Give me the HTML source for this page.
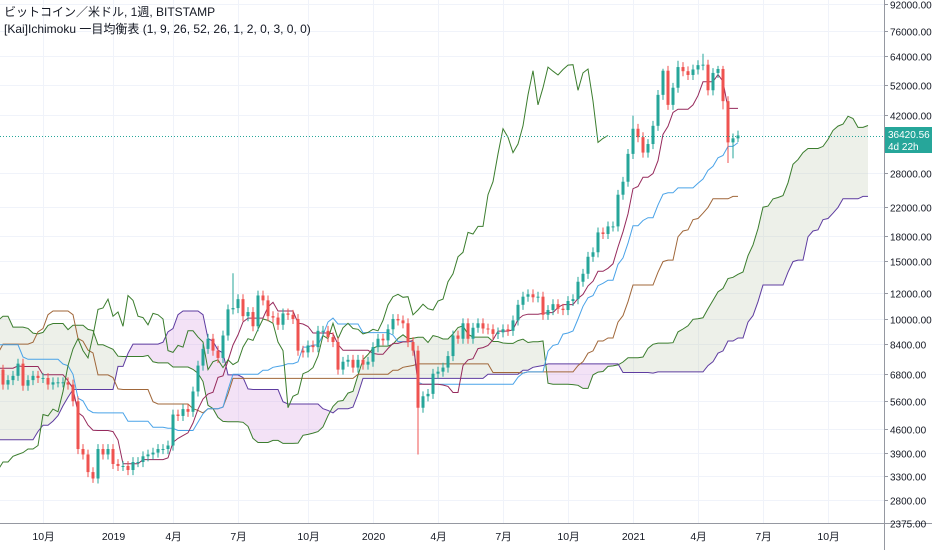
<!DOCTYPE html>
<html><head><meta charset="utf-8"><style>
body{margin:0;background:#fff;width:932px;height:550px;overflow:hidden;font-family:"Liberation Sans","Noto Sans CJK JP",sans-serif}
svg text{font-family:"Liberation Sans","Noto Sans CJK JP",sans-serif}
</style></head><body>
<svg id="c" width="932" height="550" xmlns="http://www.w3.org/2000/svg">
<rect width="932" height="550" fill="#fff"/>
<g id="grid"></g>
<g id="cloud"></g>
<g id="lines"></g>
<g id="candles"></g>
<line x1="884.5" y1="0" x2="884.5" y2="550" stroke="#9598a1"/>
<line x1="0" y1="523.5" x2="932" y2="523.5" stroke="#9598a1"/>
<g id="yax"></g>
<g id="xax"></g>
<line x1="0" y1="136.5" x2="884" y2="136.5" stroke="#26a69a" stroke-dasharray="1,2"/>
<rect x="885" y="127" width="47" height="26" fill="#26a69a"/>
<text x="888" y="138" font-size="10" fill="#fff">36420.56</text>
<text x="888" y="150" font-size="10" fill="#fff">4d 22h</text>
<text x="4" y="16" font-size="12" fill="#131722">ビットコイン／米ドル, 1週, BITSTAMP</text>
<text x="4" y="33" font-size="12" fill="#131722">[Kai]Ichimoku 一目均衡表 (1, 9, 26, 52, 26, 1, 2, 0, 3, 0, 0)</text>
</svg>
<script>
// weekly closes starting 2017-02-06
const closes = [1000,1050,1180,1270,1230,1020,960,1080,1190,1180,1250,1350,1550,1750,2050,2050,2500,2700,2500,2600,2500,2500,1950,2750,2700,3250,4000,4100,4350,4600,4200,3700,3800,4400,4600,5600,6000,6100,7400,5900,8000,9700,11200,15000,19000,14000,13500,
14000,13500,11500,11200,8200,8100,10300,9600,11400,9600,8200,8500,6900,6900,8000,8900,9300,8700,8500,8200,7350,7700,6500,6400,6100,6400,6700,6350,8200,8200,7000,
6300,6500,6700,7300,6250,6500,6700,6600,6600,6300,6400,6400,6400,6300,5600,4000,3850,3400,3250,4000,3850,4000,
3600,3550,3550,3450,3650,3650,3800,3850,3900,4000,4000,4100,5100,5050,5300,5200,6000,7200,8100,8700,8000,7600,8900,10700,10800,11500,10200,10500,9500,11800,11400,10200,10100,9600,10400,10300,10000,8000,7900,8300,8200,9200,9200,8800,8500,7000,7400,7500,7100,7500,7250,7400,
8200,8700,8600,9300,10000,9900,9700,8500,8000,5350,5800,5900,6800,6900,7100,7700,8900,8700,9700,8700,9400,9700,9350,9300,9000,9100,9300,9200,9900,11050,11700,11900,11650,11700,10300,10650,11100,10750,10650,11350,11500,13000,13750,15500,16000,18400,18200,19200,19200,24000,26300,32000,
38200,36000,32300,34300,39000,48500,57500,45200,51000,59000,57300,55800,58000,59800,60000,50100,56600,58200,46400,34700,35700,36420];
const firstOpen = 970;
const highOverrides = {44:19600,124:13800,204:41900,210:58300,213:61700,218:64800,221:59500,222:59500};
const lowOverrides = {96:3150,161:3850,222:43800,223:30000,224:31000,225:34800};
const priceTicks = [92000,76000,64000,52000,42000,28000,22000,18000,15000,12000,10000,8400,6800,5600,4600,3900,3300,2800,2375];
const timeLabels = ["10月","2019","4月","7月","10月","2020","4月","7月","10月","2021","4月","7月","10月"];
const timeLabelWeek = [86,100,112,125,139,152,165,178,191,204,217,230,243];
const tenkanLen=9, kijunLen=26, spanBLen=52, disp=26, visStart=78;

const NS="http://www.w3.org/2000/svg";
const L0=Math.log(92000), K=141.93;
const yS=p=>4+(L0-Math.log(p))*K;
const xS=i=>3+(i-visStart)*5;
function mk(tag,attrs,parent){const e=document.createElementNS(NS,tag);for(const k in attrs)e.setAttribute(k,attrs[k]);parent.appendChild(e);return e;}
const N=closes.length;
const opens=closes.map((c,i)=>i?closes[i-1]:firstOpen);
const highs=closes.map((c,i)=>highOverrides[i]||Math.max(c,opens[i])*1.035);
const lows=closes.map((c,i)=>lowOverrides[i]||Math.min(c,opens[i])*0.965);
function gmid(i,len){let h=-1,l=1e12;for(let j=Math.max(0,i-len+1);j<=i;j++){h=Math.max(h,highs[j]);l=Math.min(l,lows[j]);}return Math.sqrt(h*l);}
const tenkan=[],kijun=[],spanB=[],spanA=[];
for(let i=0;i<N;i++){tenkan[i]=gmid(i,tenkanLen);kijun[i]=gmid(i,kijunLen);spanB[i]=gmid(i,spanBLen);spanA[i]=Math.sqrt(tenkan[i]*kijun[i]);}

const grid=document.getElementById('grid'), yax=document.getElementById('yax'), xax=document.getElementById('xax');
priceTicks.forEach(p=>{const y=Math.round(yS(p))+0.5;
 const g=mk('line',{x1:0,x2:884,y1:y,y2:y,stroke:'#f0f3fa'},grid);
 
 
 mk('line',{x1:884,x2:888,y1:y,y2:y,stroke:'#9598a1'},yax);
 const t=mk('text',{x:890,y:y+4,'font-size':10,fill:'#131722'},yax);t.textContent=p.toFixed(2);
 
 });
timeLabels.forEach((s,k)=>{const x=Math.round(xS(timeLabelWeek[k]))+0.5;
 const g=mk('line',{x1:x,x2:x,y1:0,y2:523,stroke:'#f0f3fa'},grid);
 
 
 const t=mk('text',{x:x,y:540,'font-size':10.5,fill:'#131722','text-anchor':'middle'},xax);t.textContent=s;
 
 });

const cloud=document.getElementById('cloud');
for(let i=visStart-disp-1;i<N-1;i++){
 if(i<0)continue;
 const x1=xS(i+disp),x2=xS(i+disp+1);
 const up=Math.log(spanA[i])+Math.log(spanA[i+1])>=Math.log(spanB[i])+Math.log(spanB[i+1]);
 const poly=mk('polygon',{points:`${x1},${yS(spanA[i])} ${x2},${yS(spanA[i+1])} ${x2},${yS(spanB[i+1])} ${x1},${yS(spanB[i])}`,fill:up?'rgba(190,200,175,0.28)':'rgba(215,160,225,0.3)',stroke:'none'},cloud);
 
 
}
const lines=document.getElementById('lines');
function line(arr,shift,color,name){let d='';for(let i=0;i<N;i++){const x=xS(i+shift);if(x<-5)continue;d+=(d?'L':'M')+x.toFixed(1)+','+yS(arr[i]).toFixed(1);}
 const p=mk('path',{d:d,fill:'none',stroke:color,'stroke-width':1},lines);
 
 }
line(spanA,disp,'#3b7d2e','senkou-span-a');
line(spanB,disp,'#5e3ca0','senkou-span-b');
line(spanB,0,'#a0673a','span-b-unshifted');
line(kijun,0,'#4aa3e8','kijun-sen');
line(tenkan,0,'#962a5c','tenkan-sen');
line(closes,-disp,'#3b7d2e','chikou-span');

const cg=document.getElementById('candles');
for(let i=visStart;i<N;i++){const x=xS(i),o=opens[i],c=closes[i],up=c>=o,col=up?'#26a69a':'#ef5350';
 const w=mk('line',{x1:x,x2:x,y1:yS(highs[i]),y2:yS(lows[i]),stroke:col,'stroke-width':1},cg);
 
 
 const yt=yS(Math.max(o,c)),yb=yS(Math.min(o,c));
 const b=mk('rect',{x:x-1.5,y:yt,width:3,height:Math.max(1,yb-yt),fill:col},cg);
 
 }
</script>
</body></html>
